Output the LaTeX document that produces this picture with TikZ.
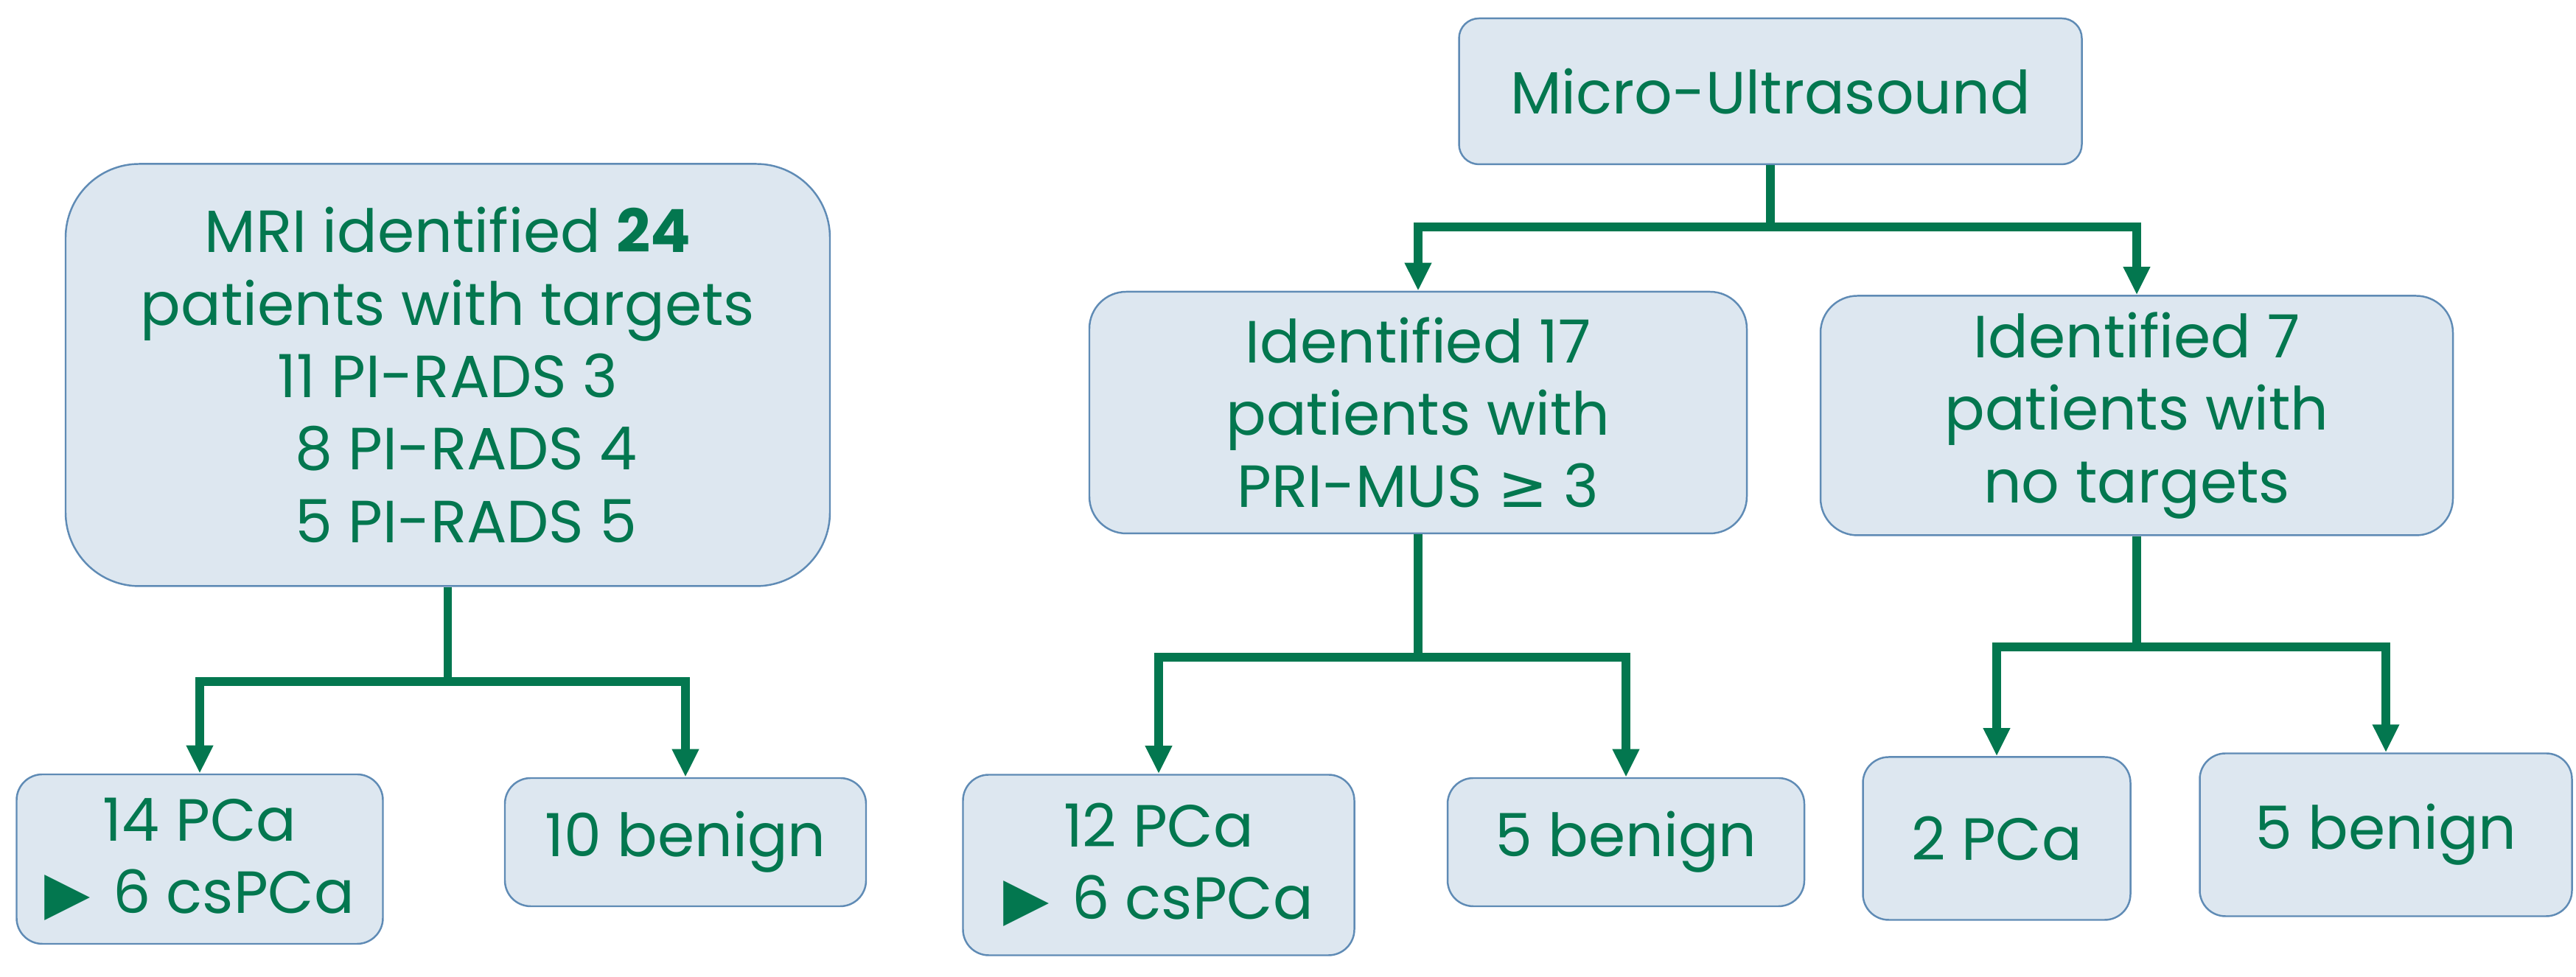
\documentclass[tikz,border=0pt]{standalone}
\usepackage{fontspec}
\setmainfont{Poppins}
\newfontfamily\symfont{DejaVu Sans}
\usetikzlibrary{arrows.meta}
\definecolor{cVerde}{HTML}{03774F}
\definecolor{cCaja}{HTML}{DDE7F0}
\definecolor{cBorde}{HTML}{5F8BB5}
\tikzset{
    x=1cm, y=1cm, font=\fontsize{23}{28}\selectfont,
    caja/.style={draw=cBorde, line width=0.7pt, fill=cCaja, text=cVerde,
                 align=center, inner sep=0pt},
    hoja/.style={caja, rounded corners=0.35cm},
    tronco/.style={line width=3.4pt, cVerde},
    rama/.style={tronco, -{Triangle[length=0.38cm, width=0.34cm]}},
}

\begin{document}
\begin{tikzpicture}
    \useasboundingbox (0,0) rectangle (34.95,13.26);

    \node[caja, rounded corners=1cm, minimum width=10.37cm, minimum height=5.73cm]
        (mri) at (6.075,8.17)
        {MRI identified \textbf{24}\\patients with targets\\11 PI-RADS 3\\
         \hspace*{0.5cm}8 PI-RADS 4\\\hspace*{0.5cm}5 PI-RADS 5};

    \node[caja, rounded corners=0.27cm, minimum width=8.45cm, minimum height=1.98cm]
        (micro) at (24.02,12.02) {Micro-Ultrasound};
    \node[caja, rounded corners=0.5cm, minimum width=8.92cm, minimum height=3.28cm]
        (id17) at (19.24,7.66) {Identified 17\\patients with\\PRI-MUS {\symfont ≥} 3};
    \node[caja, rounded corners=0.5cm, minimum width=8.58cm, minimum height=3.25cm]
        (id7) at (28.99,7.62) {Identified 7\\patients with\\no targets};

    \node[hoja, minimum width=4.97cm, minimum height=2.30cm] (mriPca) at (2.71,1.60)
        {14 PCa\\{\symfont ▶}\hspace{0.3cm}6 csPCa};
    \node[hoja, minimum width=4.90cm, minimum height=1.74cm] (mriBen) at (9.30,1.83)
        {10 benign};
    \node[hoja, minimum width=5.31cm, minimum height=2.45cm] (usPca) at (15.72,1.52)
        {12 PCa\\{\symfont ▶}\hspace{0.3cm}6 csPCa};
    \node[hoja, minimum width=4.84cm, minimum height=1.74cm] (usBen) at (22.06,1.83)
        {5 benign};
    \node[hoja, minimum width=3.63cm, minimum height=2.21cm] (noPca) at (27.09,1.88)
        {2 PCa};
    \node[hoja, minimum width=5.05cm, minimum height=2.21cm] (noBen) at (32.37,1.93)
        {5 benign};

    % tronco hasta la junta, luego dos ramas
    \foreach \p/\h/\a/\b in {mri/1.28/mriPca/mriBen, micro/0.84/id17/id7,
                             id17/1.67/usPca/usBen, id7/1.50/noPca/noBen} {
        \draw[tronco] (\p.south) -- ++(0,-\h) coordinate (j\p);
        \draw[rama] (j\p) -| (\a.north);
        \draw[rama] (j\p) -| (\b.north);
    }
\end{tikzpicture}
\end{document}
